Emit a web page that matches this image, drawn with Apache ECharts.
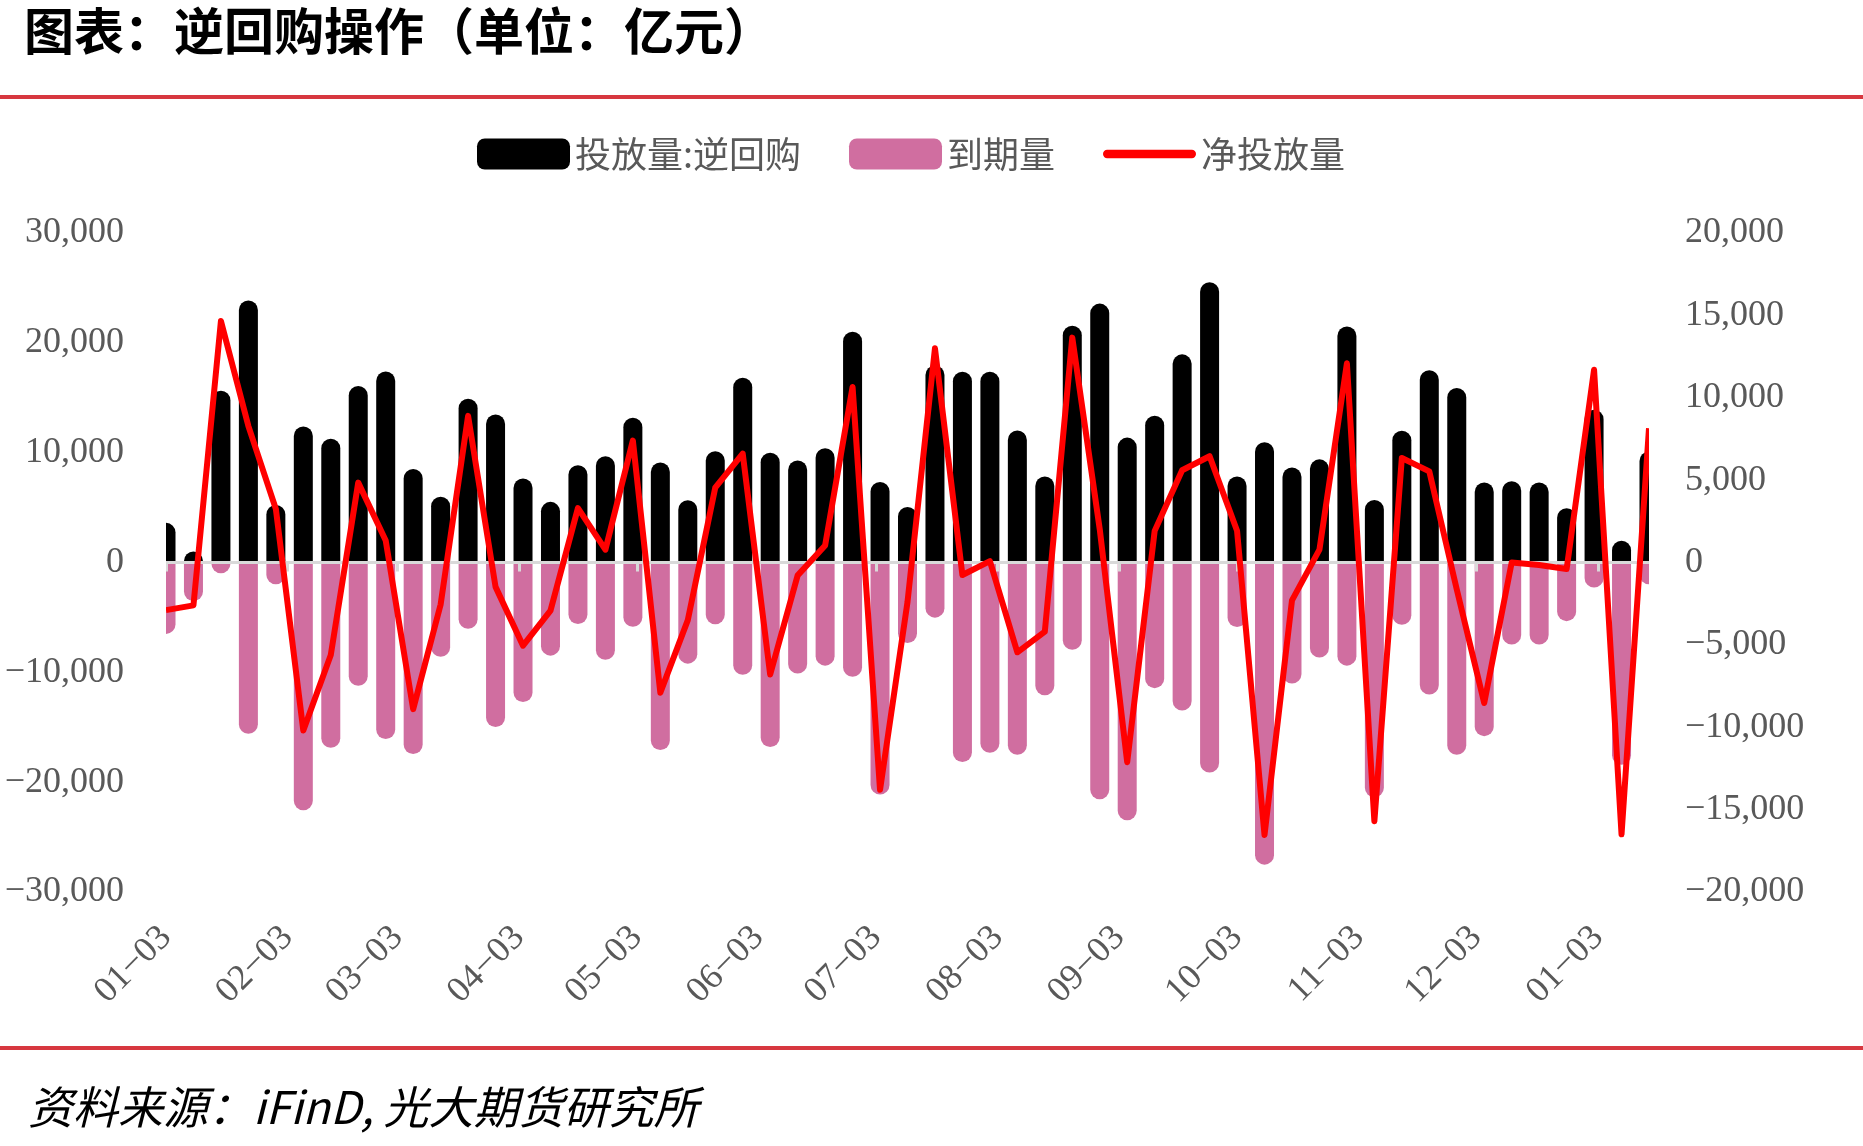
<!DOCTYPE html>
<html>
<head>
<meta charset="utf-8">
<script src="https://cdn.jsdelivr.net/npm/echarts@6/dist/echarts.min.js"></script>
<style>
  html, body { margin: 0; padding: 0; background: #fff; }
  #chart { width: 1863px; height: 1146px; }
</style>
</head>
<body>
<div id="chart"></div>
<script>
// weekly dates (Fridays)
const dates = [
  '2025-01-03', '2025-01-10', '2025-01-17', '2025-01-24', '2025-01-31',
  '2025-02-07', '2025-02-14', '2025-02-21', '2025-02-28',
  '2025-03-07', '2025-03-14', '2025-03-21', '2025-03-28',
  '2025-04-04', '2025-04-11', '2025-04-18', '2025-04-25',
  '2025-05-02', '2025-05-09', '2025-05-16', '2025-05-23', '2025-05-30',
  '2025-06-06', '2025-06-13', '2025-06-20', '2025-06-27',
  '2025-07-04', '2025-07-11', '2025-07-18', '2025-07-25',
  '2025-08-01', '2025-08-08', '2025-08-15', '2025-08-22', '2025-08-29',
  '2025-09-05', '2025-09-12', '2025-09-19', '2025-09-26',
  '2025-10-03', '2025-10-10', '2025-10-17', '2025-10-24', '2025-10-31',
  '2025-11-07', '2025-11-14', '2025-11-21', '2025-11-28',
  '2025-12-05', '2025-12-12', '2025-12-19', '2025-12-26',
  '2026-01-02', '2026-01-09', '2026-01-16'
]

// 投放量:逆回购
const injection = [
  3610, 1010, 15630, 23860, 5240, 12380, 11260, 16070, 17400,
  8520, 5990, 14910, 13470, 7650, 5520, 8850, 9680, 13180,
  9100, 5670, 10140, 16820, 10000, 9280, 10400, 21010, 7330,
  5050, 17940, 17370, 17370, 12020, 7830, 21550, 23570, 11370,
  13360, 18950, 25520, 7830, 10940, 8660, 9390, 21480, 5700,
  11990, 17510, 15880, 7290, 7400, 7290, 4950, 13900, 1990, 10110
]

// 到期量
const maturity = [
  -6500, -3500, -980, -15600, -1990, -22560, -16860, -11230, -16070,
  -17440, -8590, -6030, -14980, -12710, -8480, -5600, -8850, -5850,
  -17080, -9210, -5630, -10220, -16790, -10110, -9390, -10400, -21120,
  -7330, -5020, -18160, -17330, -17510, -12090, -7940, -21550, -23470,
  -11440, -13470, -19130, -5880, -27510, -11010, -8660, -9390, -21370,
  -5670, -12020, -17510, -15810, -7470, -7470, -5340, -2270, -18410, -1990
]

// 净投放量 (right axis)
const netInjection = [
  -2890, -2600, 14660, 8280, 3250, -10200, -5620, 4850, 1330,
  -8900, -2550, 8900, -1480, -5050, -2920, 3300, 780, 7400,
  -7900, -3500, 4540, 6610, -6800, -780, 1030, 10650, -13800,
  -2400, 13000, -760, 80, -5450, -4200, 13650, 2020, -12120,
  1920, 5600, 6450, 1930, -16540, -2300, 780, 12090, -15700,
  6340, 5530, -1630, -8530, 0, -150, -400, 11700, -16500, 8150
]

const monthTicks = [
  '2025-01-03', '2025-02-03', '2025-03-03', '2025-04-03', '2025-05-03',
  '2025-06-03', '2025-07-03', '2025-08-03', '2025-09-03', '2025-10-03',
  '2025-11-03', '2025-12-03', '2026-01-03'
]

const numFont = '"Liberation Serif", "Times New Roman", serif'
const cjkFont = '"Noto Sans CJK SC", sans-serif'
const gray = '#595959'

function toTime(s) {
  const p = s.split('-')
  return new Date(+p[0], +p[1] - 1, +p[2]).getTime()
}
const pad = n => (n < 10 ? '0' : '') + n
const fmtNum = v => (v < 0 ? '\u2212' : '') + Math.abs(v).toLocaleString('en-US')

const xMin = toTime(dates[0])
const xMax = toTime(dates[dates.length - 1])
const tickTimes = monthTicks.map(toTime)

const gridLeft = 166, gridRight = 214, gridTop = 233, gridBottom = 254

const chart = echarts.init(document.getElementById('chart'))
chart.setOption({
  animation: false,
  backgroundColor: '#fff',
  grid: { left: gridLeft, right: gridRight, top: gridTop, bottom: gridBottom },
  legend: {
    left: 472, top: 131,
    itemWidth: 93, itemHeight: 31, itemGap: 48,
    textStyle: { fontFamily: cjkFont, fontSize: 36, color: gray },
    data: [
      { name: '投放量:逆回购' },
      { name: '到期量' },
      { name: '净投放量', icon: 'path://M4,0H86A4,4,0,0,1,86,8H4A4,4,0,0,1,4,0Z' }
    ]
  },
  xAxis: [
    // weekly positions for bars and line (evenly spaced weeks)
    {
      type: 'category', data: dates, boundaryGap: false, position: 'bottom',
      axisLine: { show: false, onZero: false }, axisTick: { show: false },
      axisLabel: { show: false }, splitLine: { show: false }
    },
    // month labels along the bottom
    {
      type: 'value', min: xMin, max: xMax, position: 'bottom',
      axisLine: { show: false, onZero: false },
      axisTick: { show: false },
      splitLine: { show: false },
      axisLabel: {
        customValues: tickTimes,
        rotate: 45, margin: 40,
        fontFamily: numFont, fontSize: 36, color: gray,
        formatter: v => { const d = new Date(v); return pad(d.getMonth() + 1) + '\u2212' + pad(d.getDate()) }
      }
    },
    // zero line with month ticks
    {
      type: 'value', min: xMin, max: xMax, position: 'bottom', z: 5,
      axisLine: { show: true, onZero: true, onZeroAxisIndex: 0, lineStyle: { color: '#d9d9d9', width: 3 } },
      axisTick: { show: true, customValues: tickTimes, length: 9, lineStyle: { color: '#d9d9d9', width: 3 } },
      axisLabel: { show: false },
      splitLine: { show: false }
    }
  ],
  yAxis: [
    {
      type: 'value', min: -30000, max: 30000, interval: 10000,
      axisLine: { show: false }, axisTick: { show: false }, splitLine: { show: false },
      axisLabel: { margin: 42, fontFamily: numFont, fontSize: 36, color: gray, formatter: fmtNum }
    },
    {
      type: 'value', min: -20000, max: 20000, interval: 5000,
      axisLine: { show: false }, axisTick: { show: false }, splitLine: { show: false },
      axisLabel: { margin: 36, fontFamily: numFont, fontSize: 36, color: gray, formatter: fmtNum }
    }
  ],
  series: [
    {
      name: '投放量:逆回购', type: 'bar', xAxisIndex: 0, yAxisIndex: 0,
      barWidth: 19, barGap: '-100%', clip: true,
      itemStyle: { color: '#000000', borderRadius: [10, 10, 0, 0] },
      data: injection
    },
    {
      name: '到期量', type: 'bar', xAxisIndex: 0, yAxisIndex: 0,
      barWidth: 19, barGap: '-100%', clip: true,
      itemStyle: { color: '#D06EA0', borderRadius: [0, 0, 10, 10] },
      data: maturity
    },
    {
      name: '净投放量', type: 'line', xAxisIndex: 0, yAxisIndex: 1, z: 10,
      symbol: 'none', clip: true,
      lineStyle: { color: '#FF0000', width: 6, join: 'round' },
      itemStyle: { color: '#FF0000' },
      data: netInjection
    }
  ],
  graphic: [
    // white masks: the half bars at both ends are cut at the plot edge
    { type: 'rect', z: 50, left: gridLeft - 24, top: gridTop - 30, shape: { width: 24, height: 720 }, style: { fill: '#fff' } },
    { type: 'rect', z: 50, left: 1863 - gridRight, top: gridTop - 30, shape: { width: 24, height: 720 }, style: { fill: '#fff' } },
    {
      type: 'text', left: 24, top: 6,
      style: { text: '图表：逆回购操作（单位：亿元）', font: 'bold 50px ' + cjkFont, fill: '#000' }
    },
    { type: 'rect', left: 0, top: 95, shape: { width: 1863, height: 4 }, style: { fill: '#D7373F' } },
    { type: 'rect', left: 0, top: 1046, shape: { width: 1863, height: 4 }, style: { fill: '#D7373F' } },
    {
      type: 'text', left: 28, top: 1084,
      style: { text: '资料来源：iFinD, 光大期货研究所', font: 'italic 45px ' + cjkFont, fill: '#000' }
    }
  ]
})
</script>
</body>
</html>
